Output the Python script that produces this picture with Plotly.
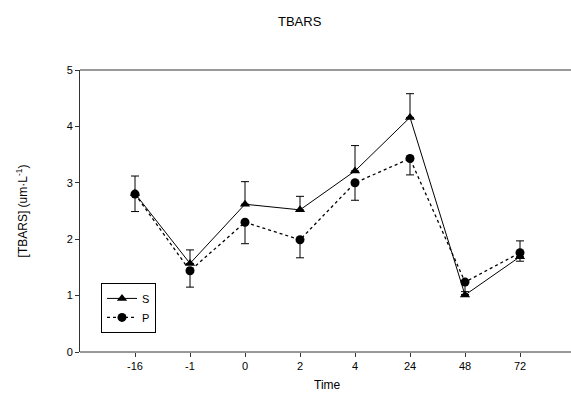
import plotly.graph_objects as go

times = ["-16", "-1", "0", "2", "4", "24", "48", "72"]
pos = [1, 2, 3, 4, 5, 6, 7, 8]
s_vals = [2.81, 1.57, 2.62, 2.52, 3.21, 4.16, 1.01, 1.69]
s_err_up = [0.31, 0.24, 0.40, 0.24, 0.45, 0.42, 0.06, 0.28]
p_vals = [2.80, 1.44, 2.30, 1.99, 3.00, 3.43, 1.24, 1.76]
p_err_down = [0.31, 0.29, 0.38, 0.32, 0.31, 0.29, 0.22, 0.15]

FONT = "Liberation Sans, Arial, sans-serif"
AX = "#333333"

fig = go.Figure()
fig.add_trace(go.Scatter(
    x=pos, y=s_vals, name="S", mode="lines+markers",
    line=dict(color="black", width=1, dash="solid"),
    marker=dict(symbol="triangle-up", size=9, color="black"),
    error_y=dict(type="data", symmetric=False, array=s_err_up,
                 arrayminus=[0] * len(s_vals), color="black", thickness=1, width=4),
))
fig.add_trace(go.Scatter(
    x=pos, y=p_vals, name="P", mode="lines+markers",
    line=dict(color="black", width=1.3, dash="dot"),
    marker=dict(symbol="circle", size=9, color="black"),
    error_y=dict(type="data", symmetric=False, array=[0] * len(p_vals),
                 arrayminus=p_err_down, color="black", thickness=1, width=4),
))

R = 20
PLOT_W = 571 - 80 - R
EXT = 1 + R / PLOT_W  # extend frame lines to the page edge

fig.update_layout(
    width=571, height=399,
    margin=dict(l=80, r=R, t=70, b=47, autoexpand=False),
    paper_bgcolor="white", plot_bgcolor="white",
    font=dict(family=FONT, size=11, color="black"),
    showlegend=True,
    legend=dict(x=21 / PLOT_W, y=0.245, xanchor="left", yanchor="top",
                bordercolor="black", borderwidth=1, bgcolor="white",
                font=dict(size=11), itemwidth=30, tracegroupgap=0),
    annotations=[
        dict(text="TBARS", x=(300 - 80) / PLOT_W, y=(352 - 22) / 282,
             xref="paper", yref="paper", showarrow=False,
             xanchor="center", yanchor="middle",
             font=dict(size=13, family=FONT)),
        dict(text="Time", x=(327 - 80) / PLOT_W, y=-(385 - 352) / 282,
             xref="paper", yref="paper", showarrow=False,
             xanchor="center", yanchor="middle",
             font=dict(size=12, family=FONT)),
    ],
    shapes=[
        dict(type="line", xref="paper", yref="paper", x0=0, x1=EXT, y0=1, y1=1,
             line=dict(color=AX, width=1)),
        dict(type="line", xref="paper", yref="paper", x0=0, x1=EXT, y0=0, y1=0,
             line=dict(color=AX, width=1)),
    ],
)

fig.update_xaxes(
    range=[0, PLOT_W / 55], tickmode="array", tickvals=pos, ticktext=times,
    showline=False, mirror=False, automargin=False,
    ticks="outside", ticklen=4, tickcolor=AX, showgrid=False, zeroline=False,
)
fig.update_yaxes(
    range=[0, 5], tickvals=[0, 1, 2, 3, 4, 5],
    showline=True, linecolor=AX, linewidth=1, mirror=False, automargin=False,
    ticks="outside", ticklen=4, tickcolor=AX, showgrid=False, zeroline=False,
    title=dict(text="[TBARS] (um·L<sup>-1</sup>)", font=dict(size=12), standoff=36),
)

fig.write_html("out.html")
